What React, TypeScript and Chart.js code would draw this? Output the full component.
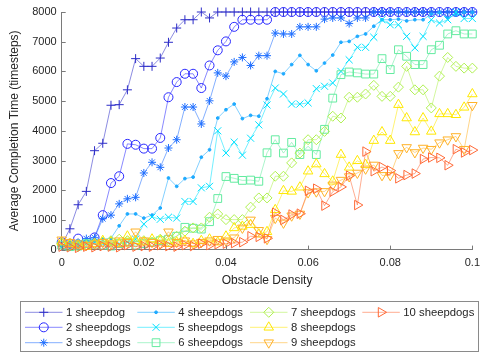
import React, { useEffect, useRef } from 'react';
import { Chart, registerables } from 'chart.js';
import { drawPoint } from 'chart.js/helpers';

Chart.register(...registerables);

const density = [
  0, 0.002, 0.004, 0.006, 0.008, 0.01, 0.012, 0.014, 0.016, 0.018,
  0.02, 0.022, 0.024, 0.026, 0.028, 0.03, 0.032, 0.034, 0.036, 0.038,
  0.04, 0.042, 0.044, 0.046, 0.048, 0.05, 0.052, 0.054, 0.056, 0.058,
  0.06, 0.062, 0.064, 0.066, 0.068, 0.07, 0.072, 0.074, 0.076, 0.078,
  0.08, 0.082, 0.084, 0.086, 0.088, 0.09, 0.092, 0.094, 0.096, 0.098, 0.1,
];

const seriesNames = [
  '1 sheepdog', '2 sheepdogs', '3 sheepdogs', '4 sheepdogs', '5 sheepdogs',
  '6 sheepdogs', '7 sheepdogs', '8 sheepdogs', '9 sheepdogs', '10 sheepdogs',
];

const s1 = [150, 700, 1510, 1960, 3330, 3580, 4860, 4880, 5380, 6430, 6170, 6170, 6450, 6980, 7460, 7740, 7740, 8000, 7800,
  8000, 8000, 8000, 8000, 8000, 8000, 8000, 8000, 8000, 8000, 8000, 8000, 8000, 8000, 8000, 8000,
  8000, 8000, 8000, 8000, 8000, 8000, 8000, 8000, 8000, 8000, 8000, 8000, 8000, 8000, 8000, 8000];
const s2 = [250, 200, 370, 150, 410, 1160, 2240, 2470, 3560, 3530, 3400, 3400, 3760, 5130, 5640, 5920, 5920, 5440, 6200, 6710, 7010, 7500, 7740, 7740, 7740, 7740,
  8000, 8000, 8000, 8000, 8000, 8000, 8000, 8000, 8000, 8000, 8000, 8000, 8000,
  8000, 8000, 8000, 8000, 8000, 8000, 8000, 8000, 8000, 8000, 8000, 8000];
const s3 = [100, 150, 100, 370, 400, 1040, 1160, 1540, 1710, 1760, 2580, 2940, 2770, 3420, 3700, 4800, 4800, 4230, 5010, 5950, 5840, 6320, 6470, 6200, 6530, 6530, 7290, 7260, 7260, 7500, 7500, 7500, 7760, 7800, 7800, 7610, 7800, 7800,
  8000, 8000, 8000, 8000, 8000, 8000, 8000, 8000, 8000, 8000, 8000, 8000, 8000];
const s4 = [100, 250, 300, 300, 300, 350, 380, 800, 1200, 1200, 1060, 1160, 1400, 2410, 2130, 2390, 2440, 3110, 3360, 4430, 4710, 4900, 4410, 4520, 4490, 5080, 6000, 5920, 6230, 6540, 6230, 6020, 6280, 6550, 6980, 7010, 7180, 7260, 7520, 7740, 7740, 7760, 7700, 7740, 7740, 7930, 7980, 7800, 7900, 7990, 7990];
const s5 = [100, 150, 200, 200, 250, 200, 150, 200, 250, 350, 860, 1100, 1020, 1090, 1060, 1620, 1620, 2080, 2130, 4000, 3250, 3620, 3180, 3750, 4200, 4870, 5440, 5240, 4900, 4900, 4940, 5420, 5500, 5610, 6000, 6390, 6810, 6810, 7150, 7740, 7570, 7570, 7180, 6790, 7180, 7740, 7630, 7740, 8000, 7780, 7780];
const s6 = [150, 100, 120, 200, 180, 150, 120, 200, 250, 150, 200, 250, 300, 350, 450, 750, 720, 690, 940, 1720, 2460, 2400, 2330, 2340, 2300, 3260, 3700, 3250, 3610, 3200, 3480, 3200, 4050, 5100, 5890, 5980, 5950, 5910, 5910, 6430, 6060, 6730, 6510, 6230, 6230, 6730, 6880, 7260, 7370, 7260, 7260];
const s7 = [200, 150, 100, 150, 200, 250, 300, 350, 300, 250, 300, 250, 350, 300, 450, 620, 730, 730, 1090, 1200, 1010, 1010, 1010, 1430, 1740, 1740, 2470, 2470, 2920, 3250, 3700, 3700, 3980, 4490, 4430, 5130, 5130, 5240, 5530, 5160, 5160, 5470, 6170, 5380, 5380, 4770, 5840, 6470, 6170, 6110, 6110];
const s8 = [250, 200, 150, 100, 200, 300, 250, 200, 450, 300, 250, 350, 300, 200, 250, 300, 200, 300, 350, 250, 450, 730, 780, 840, 520, 600, 1340, 1980, 1960, 2100, 2640, 2880, 2550, 2300, 3200, 2770, 2990, 2860, 3670, 3960, 3670, 4880, 4430, 3960, 4430, 3980, 4570, 4570, 4540, 4790, 5240];
const s9 = [330, 250, 200, 150, 200, 250, 200, 300, 250, 600, 300, 250, 200, 600, 250, 300, 200, 250, 300, 350, 300, 400, 730, 1000, 650, 350, 1060, 900, 1140, 1200, 1920, 1950, 1960, 2180, 2340, 2460, 2580, 2720, 2850, 2500, 2500, 3240, 3440, 3270, 3420, 3380, 3600, 3700, 3810, 3380, 4860];
const s10 = [100, 80, 60, 100, 80, 120, 100, 80, 150, 100, 120, 100, 150, 120, 100, 150, 120, 200, 150, 180, 200, 220, 250, 450, 430, 380, 1240, 1000, 1180, 1210, 1980, 2050, 1480, 1950, 2110, 2490, 1500, 3300, 2640, 2780, 2660, 2400, 2510, 2560, 3050, 3100, 3090, 2840, 3380, 3270, 3350];

const seriesValues = [s1, s2, s3, s4, s5, s6, s7, s8, s9, s10];

const yTicks = [0, 1000, 2000, 3000, 4000, 5000, 6000, 7000, 8000];
const xTicks = [0, 0.02, 0.04, 0.06, 0.08, 0.1];

const rgb = [
  [45, 45, 200], [40, 40, 255], [30, 110, 255], [30, 170, 255], [0, 225, 255],
  [100, 235, 160], [175, 240, 80], [255, 232, 0], [255, 178, 40], [255, 105, 55],
];
const styles = [
  { pointStyle: 'cross', radius: 4.5, rotation: 0, fill: false },
  { pointStyle: 'circle', radius: 4.5, rotation: 0, fill: false },
  { pointStyle: 'star', radius: 4, rotation: 0, fill: false },
  { pointStyle: 'circle', radius: 1.4, rotation: 0, fill: true },
  { pointStyle: 'crossRot', radius: 5, rotation: 0, fill: false },
  { pointStyle: 'rect', radius: 5.5, rotation: 0, fill: false },
  { pointStyle: 'rectRot', radius: 5, rotation: 0, fill: false },
  { pointStyle: 'triangle', radius: 5.5, rotation: 0, fill: false },
  { pointStyle: 'triangle', radius: 5.5, rotation: 180, fill: false },
  { pointStyle: 'triangle', radius: 5.5, rotation: 90, fill: false },
];

const FONT = '"Liberation Sans", Arial, sans-serif';
const TEXT = '#262626';
const AXIS = '#7a7a7a';

const innerTicks = {
  id: 'innerTicks',
  afterDatasetsDraw(chart: any) {
    const { ctx, chartArea, scales } = chart;
    ctx.save();
    ctx.strokeStyle = AXIS;
    ctx.lineWidth = 1;
    ctx.beginPath();
    yTicks.forEach((v) => {
      const py = Math.round(scales.y.getPixelForValue(v)) + 0.5;
      ctx.moveTo(chartArea.left, py);
      ctx.lineTo(chartArea.left + 4, py);
    });
    xTicks.forEach((v) => {
      const px = Math.round(scales.x.getPixelForValue(v)) + 0.5;
      ctx.moveTo(px, chartArea.bottom);
      ctx.lineTo(px, chartArea.bottom - 4);
    });
    ctx.stroke();
    ctx.restore();
  },
};

const customLegend = {
  id: 'customLegend',
  afterDraw(chart: any) {
    const ctx = chart.ctx;
    ctx.save();
    ctx.fillStyle = '#ffffff';
    ctx.fillRect(20.5, 301.5, 458, 50);
    ctx.strokeStyle = '#8a8a8a';
    ctx.lineWidth = 1;
    ctx.strokeRect(20.5, 301.5, 458, 50);
    const colX = [25, 137.3, 250, 362.3];
    const rowY = [312.3, 327.3, 342.7];
    seriesNames.forEach((name, k) => {
      const ds = chart.data.datasets[k];
      const x0 = colX[Math.floor(k / 3)];
      const y = rowY[k % 3];
      ctx.strokeStyle = ds.borderColor;
      ctx.lineWidth = 1;
      ctx.beginPath();
      ctx.moveTo(x0, y);
      ctx.lineTo(x0 + 37.5, y);
      ctx.stroke();
      ctx.strokeStyle = ds.pointBorderColor;
      ctx.fillStyle = ds.pointBackgroundColor;
      drawPoint(ctx, {
        pointStyle: ds.pointStyle,
        radius: ds.pointRadius,
        rotation: ds.pointRotation,
        borderWidth: 1,
      } as any, x0 + 18.75, y);
      ctx.fillStyle = TEXT;
      ctx.font = `11.3px ${FONT}`;
      ctx.textBaseline = 'middle';
      ctx.textAlign = 'left';
      ctx.fillText(name, x0 + 41, y + 0.5);
    });
    ctx.restore();
  },
};

export default function App() {
  const ref = useRef<HTMLCanvasElement>(null);
  useEffect(() => {
    if (!ref.current) return;
    const datasets = seriesValues.map((vals, k) => {
      const [r, g, b] = rgb[k];
      const st = styles[k];
      const full = `rgb(${r},${g},${b})`;
      return {
        label: seriesNames[k],
        data: vals.map((v, i) => ({ x: density[i], y: v })),
        borderColor: `rgba(${r},${g},${b},0.55)`,
        borderWidth: 1,
        pointStyle: st.pointStyle,
        pointRadius: st.radius,
        pointRotation: st.rotation,
        pointBorderColor: full,
        pointBackgroundColor: st.fill ? full : 'rgba(0,0,0,0)',
        pointBorderWidth: 1,
        pointHoverRadius: st.radius,
        fill: false,
        tension: 0,
        clip: false as any,
        order: 9 - k,
      };
    });
    const chart = new Chart(ref.current, {
      type: 'line',
      data: { datasets: datasets as any },
      plugins: [innerTicks, customLegend],
      options: {
        animation: false,
        responsive: false,
        devicePixelRatio: 1,
        layout: { padding: { left: 0, top: 12, right: 8.5, bottom: 64.8 } },
        plugins: { legend: { display: false }, tooltip: { enabled: false } },
        scales: {
          x: {
            type: 'linear',
            min: 0,
            max: 0.1,
            afterBuildTicks: (scale: any) => {
              scale.ticks = xTicks.map((v) => ({ value: v }));
            },
            afterFit: (scale: any) => { scale.height = 38.6; },
            grid: { display: false, drawTicks: false },
            border: { display: true, color: AXIS, width: 1 },
            ticks: {
              padding: 7,
              color: TEXT,
              font: { family: FONT, size: 11 },
              maxRotation: 0,
              autoSkip: false,
              callback: (v: any) => String(+Number(v).toFixed(3)),
            },
            title: {
              display: true,
              text: 'Obstacle Density',
              color: TEXT,
              font: { family: FONT, size: 12 },
              padding: { top: 0, bottom: 0 },
            },
          },
          y: {
            type: 'linear',
            min: 0,
            max: 8000,
            afterBuildTicks: (scale: any) => {
              scale.ticks = yTicks.map((v) => ({ value: v }));
            },
            afterFit: (scale: any) => { scale.width = 61.7; },
            grid: { display: false, drawTicks: false },
            border: { display: true, color: AXIS, width: 1 },
            ticks: {
              padding: 5,
              color: TEXT,
              font: { family: FONT, size: 11 },
              autoSkip: false,
              callback: (v: any) => String(v),
            },
            title: {
              display: true,
              text: 'Average Completion Time (timesteps)',
              color: TEXT,
              font: { family: FONT, size: 12 },
              padding: { top: 7, bottom: 0 },
            },
          },
        },
      },
    });
    return () => chart.destroy();
  }, []);
  return (
    <div style={{ position: 'absolute', left: 0, top: 0, width: 487, height: 353, background: '#fff' }}>
      <canvas ref={ref} width={487} height={353} style={{ width: 487, height: 353, display: 'block' }} />
    </div>
  );
}
